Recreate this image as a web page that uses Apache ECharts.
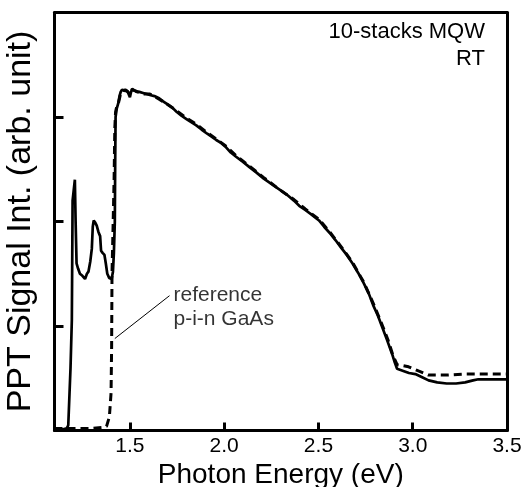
<!DOCTYPE html>
<html>
<head>
<meta charset="utf-8">
<script src="https://cdn.jsdelivr.net/npm/echarts@6/dist/echarts.min.js"></script>
<style>
html,body{margin:0;padding:0;background:#fff;}
#chart{width:526px;height:487px;}
</style>
</head>
<body>
<div id="chart"></div>
<script>
// ---- data ----
const xTickValues = [1.5, 2.0, 2.5, 3.0, 3.5];
const yTickValues = [1, 2, 3];

const mqwX = [1.10,1.14,1.165,1.173,1.185,1.192,1.196,1.202,1.208,1.212,1.217,1.225,1.235,1.248,1.262,1.272,1.28,1.29,1.298,1.303,1.308,1.316,1.324,1.333,1.342,1.347,1.355,1.365,1.372,1.38,1.39,1.403,1.41,1.415,1.42,1.422,1.424,1.43,1.438,1.445,1.451,1.458,1.465,1.475,1.486,1.493,1.5,1.506,1.512,1.52,1.535,1.55,1.57,1.59,1.606,1.63,1.655,1.676,1.70,1.725,1.747,1.775,1.80,1.825,1.852,1.88,1.91,1.935,1.958,1.985,2.01,2.035,2.063,2.10,2.134,2.17,2.21,2.25,2.29,2.33,2.37,2.398,2.43,2.46,2.503,2.53,2.56,2.591,2.62,2.65,2.68,2.71,2.74,2.767,2.79,2.815,2.838,2.865,2.891,2.905,2.917,2.95,2.98,3.014,3.05,3.084,3.13,3.18,3.23,3.278,3.32,3.348,3.40,3.45,3.5];
const mqwY = [0.01,0.01,0.02,0.05,0.6,1.06,2.2,2.3,2.40,2.0,1.6,1.55,1.50,1.48,1.45,1.50,1.52,1.62,1.74,1.95,2.01,1.99,1.96,1.90,1.86,1.72,1.70,1.68,1.60,1.50,1.46,1.45,1.52,1.70,2.0,2.6,3.0,3.08,3.13,3.2,3.24,3.26,3.26,3.25,3.25,3.22,3.19,3.24,3.27,3.26,3.24,3.24,3.23,3.22,3.21,3.20,3.18,3.15,3.12,3.09,3.05,3.01,2.98,2.95,2.92,2.88,2.84,2.81,2.78,2.75,2.71,2.66,2.62,2.57,2.52,2.47,2.41,2.36,2.31,2.26,2.20,2.15,2.11,2.07,2.01,1.95,1.89,1.82,1.75,1.68,1.60,1.51,1.41,1.31,1.20,1.10,0.99,0.86,0.73,0.65,0.59,0.57,0.55,0.54,0.51,0.48,0.46,0.45,0.45,0.46,0.48,0.49,0.49,0.49,0.49];

const refX = [1.10,1.20,1.30,1.36,1.376,1.391,1.400,1.403,1.405,1.41,1.416,1.42,1.424,1.43,1.44,1.45,1.46,1.475,1.49,1.5,1.51,1.53,1.57,1.606,1.655,1.70,1.747,1.80,1.852,1.91,1.958,2.01,2.063,2.134,2.21,2.29,2.37,2.43,2.503,2.56,2.62,2.68,2.74,2.79,2.838,2.87,2.895,2.917,2.95,2.978,3.03,3.084,3.13,3.19,3.278,3.383,3.5];
const refY = [0.02,0.02,0.02,0.03,0.04,0.13,0.36,0.8,1.5,1.9,2.4,2.9,3.05,3.1,3.14,3.22,3.25,3.26,3.24,3.22,3.26,3.25,3.22,3.22,3.17,3.12,3.06,2.99,2.93,2.85,2.79,2.72,2.63,2.53,2.42,2.31,2.21,2.12,2.02,1.90,1.76,1.61,1.42,1.22,1.01,0.86,0.72,0.63,0.62,0.61,0.57,0.53,0.53,0.53,0.54,0.54,0.54];

const leaderX = [1.42, 1.71];
const leaderY = [0.88, 1.29];
const refLabelPos = [1.71, 1.18];
const refLabelText = 'reference\np-i-n GaAs';
const sampleLine1 = '10-stacks MQW';
const sampleLine2 = 'RT';
const xTitle = 'Photon Energy (eV)';
const yTitle = 'PPT Signal Int. (arb. unit)';

const zip = (xs, ys) => xs.map((x, i) => [x, ys[i]]);

const chart = echarts.init(document.getElementById('chart'), null, {renderer: 'canvas'});
const FONT = '"Liberation Sans", Arial, sans-serif';
const frameAxis = {lineStyle: {color: '#000', width: 3}};

chart.setOption({
  animation: false,
  backgroundColor: '#fff',
  grid: {left: 54.5, top: 12.5, width: 452.5, height: 418, show: false,
    containLabel: false, outerBoundsMode: 'none'},
  xAxis: [{
    type: 'value', min: 1.1, max: 3.5, position: 'bottom',
    name: xTitle, nameLocation: 'middle', nameGap: 22,
    nameTextStyle: {fontFamily: FONT, fontSize: 28, color: '#000'},
    axisLine: {show: true, onZero: false, lineStyle: {color: '#000', width: 3}},
    axisTick: {show: true, inside: true, length: 8, lineStyle: {color: '#000', width: 3}, customValues: xTickValues},
    axisLabel: {show: true, color: '#000', fontFamily: FONT, fontSize: 21, margin: 5,
      customValues: xTickValues, formatter: v => Number(v).toFixed(1)},
    splitLine: {show: false}
  }, {
    type: 'value', min: 1.1, max: 3.5, position: 'top',
    axisLine: {show: true, onZero: false, ...frameAxis},
    axisTick: {show: false}, axisLabel: {show: false}, splitLine: {show: false}
  }],
  yAxis: [{
    type: 'value', min: 0, max: 4, position: 'left',
    name: yTitle, nameLocation: 'middle', nameGap: 17, nameRotate: 90,
    nameTextStyle: {fontFamily: FONT, fontSize: 34, color: '#000'},
    axisLine: {show: true, onZero: false, lineStyle: {color: '#000', width: 3}},
    axisTick: {show: true, inside: true, length: 9, lineStyle: {color: '#000', width: 3}, customValues: yTickValues},
    axisLabel: {show: false},
    splitLine: {show: false}
  }, {
    type: 'value', min: 0, max: 4, position: 'right',
    axisLine: {show: true, onZero: false, ...frameAxis},
    axisTick: {show: false}, axisLabel: {show: false}, splitLine: {show: false}
  }],
  graphic: [{
    type: 'text', right: 41, top: 21,
    style: {text: sampleLine1, fill: '#000', font: '22px ' + FONT}
  }, {
    type: 'text', right: 41, top: 48,
    style: {text: sampleLine2, fill: '#000', font: '22px ' + FONT}
  }],
  series: [
    {
      name: 'reference p-i-n GaAs', type: 'line', data: zip(refX, refY), showSymbol: false, symbol: 'none',
      lineStyle: {color: '#000', width: 3, type: [8, 5]}, z: 3
    },
    {
      name: '10-stacks MQW', type: 'line', data: zip(mqwX, mqwY), showSymbol: false, symbol: 'none',
      lineStyle: {color: '#000', width: 2.7}, z: 4
    },
    {
      name: 'leader', type: 'line', data: zip(leaderX, leaderY), showSymbol: false, symbol: 'none',
      lineStyle: {color: '#000', width: 1}, z: 5
    },
    {
      name: 'label', type: 'scatter', data: [refLabelPos], symbolSize: 0,
      label: {show: true, position: 'right', distance: 4, formatter: refLabelText,
        color: '#000', fontFamily: FONT, fontSize: 21, lineHeight: 24, align: 'left'},
      z: 6
    }
  ]
});
</script>
</body>
</html>
